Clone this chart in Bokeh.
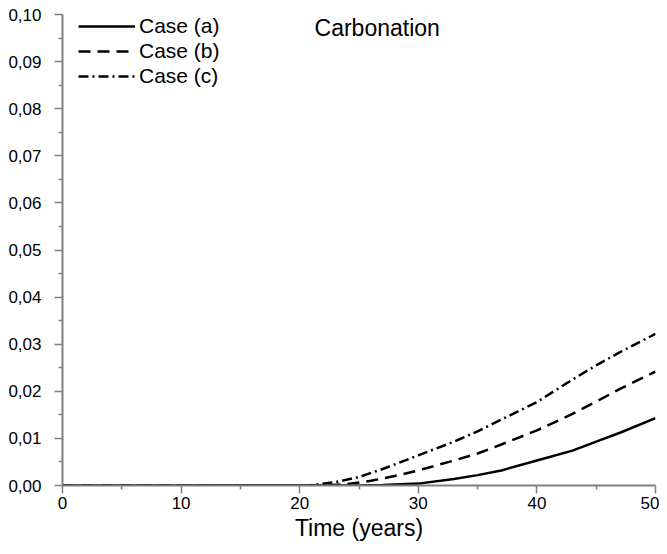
from bokeh.plotting import figure
from bokeh.models import Legend, LegendItem, Label, FixedTicker, Range1d
from bokeh.embed import file_html
from bokeh.resources import INLINE

# ---- data ----
years_a = [0, 20, 25, 27, 30, 33, 35, 37, 40, 43, 45, 47, 50]
case_a = [0.0, 0.0, 0.0, 0.0001, 0.0004, 0.0014, 0.0022, 0.0032, 0.0053, 0.0074, 0.0093, 0.0112, 0.0143]

years_b = [0, 20, 22, 24, 26, 28, 30, 33, 35, 37, 40, 43, 45, 47, 50]
case_b = [0.0, 0.0, 0.0, 0.0003, 0.0010, 0.0020, 0.0032, 0.0053, 0.0068, 0.0087, 0.0117, 0.0152, 0.0178, 0.0205, 0.0242]

years_c = [0, 20, 21, 23, 25, 27, 30, 33, 35, 37, 40, 43, 45, 47, 50]
case_c = [0.0, 0.0, 0.0001, 0.0007, 0.0018, 0.0035, 0.0064, 0.0093, 0.0115, 0.0140, 0.0177, 0.0225, 0.0255, 0.0283, 0.0322]

series_names = ["Case (a)", "Case (b)", "Case (c)"]
chart_title = "Carbonation"
x_label = "Time (years)"

x_ticks = [0, 10, 20, 30, 40, 50]
x_minor = [5, 15, 25, 35, 45]
y_ticks = [0.0, 0.01, 0.02, 0.03, 0.04, 0.05, 0.06, 0.07, 0.08, 0.09, 0.1]
y_tick_labels = ["0,00", "0,01", "0,02", "0,03", "0,04", "0,05", "0,06", "0,07", "0,08", "0,09", "0,10"]
y_minor = [0.005, 0.015, 0.025, 0.035, 0.045, 0.055, 0.065, 0.075, 0.085, 0.095]

FONT = "Liberation Sans"
AX = "#808080"

p = figure(width=659, height=546, output_backend="svg", toolbar_location=None,
           x_range=Range1d(0, 50), y_range=Range1d(0, 0.1),
           min_border_left=62, min_border_right=4, min_border_top=14, min_border_bottom=61)
p.outline_line_color = None
p.xgrid.grid_line_color = None
p.ygrid.grid_line_color = None

r_a = p.line(years_a, case_a, line_color="black", line_width=2.5)
r_b = p.line(years_b, case_b, line_color="black", line_width=2.5, line_dash="12 7")
r_c = p.line(years_c, case_c, line_color="black", line_width=2.5, line_dash="10 4 2 4")

for ax in (p.xaxis[0], p.yaxis[0]):
    ax.axis_line_color = AX
    ax.axis_line_width = 2
    ax.major_tick_line_color = AX
    ax.minor_tick_line_color = AX
    ax.major_tick_line_width = 1.5
    ax.minor_tick_line_width = 1.5
    ax.major_tick_in = 0
    ax.major_tick_out = 8
    ax.minor_tick_in = 0
    ax.minor_tick_out = 4
    ax.major_label_text_font = FONT
    ax.major_label_text_font_size = "17px"
    ax.major_label_text_color = "black"
    ax.axis_label_text_font = FONT
    ax.axis_label_text_font_style = "normal"
    ax.axis_label_text_color = "black"

p.xaxis.ticker = FixedTicker(ticks=x_ticks, minor_ticks=x_minor)
p.yaxis.ticker = FixedTicker(ticks=y_ticks, minor_ticks=y_minor)
p.yaxis.major_label_overrides = dict(zip(y_ticks, y_tick_labels))
p.yaxis.major_label_standoff = 13
p.xaxis.major_label_standoff = 3
p.xaxis.axis_label = x_label
p.xaxis.axis_label_text_font_size = "23px"
p.xaxis.axis_label_standoff = 3

legend = Legend(items=[LegendItem(label=series_names[0], renderers=[r_a]),
                       LegendItem(label=series_names[1], renderers=[r_b]),
                       LegendItem(label=series_names[2], renderers=[r_c])],
                location=(16, 397), padding=0, margin=0, spacing=1,
                glyph_width=57, label_standoff=4,
                label_text_font=FONT, label_text_font_size="21px",
                label_text_color="black",
                border_line_color=None, background_fill_alpha=0)
p.add_layout(legend)

p.add_layout(Label(x=21.25, y=0.0972, text=chart_title, text_font=FONT,
                   text_font_size="23px", text_color="black", text_baseline="alphabetic"))

open("out.html", "w").write(file_html(p, INLINE))
